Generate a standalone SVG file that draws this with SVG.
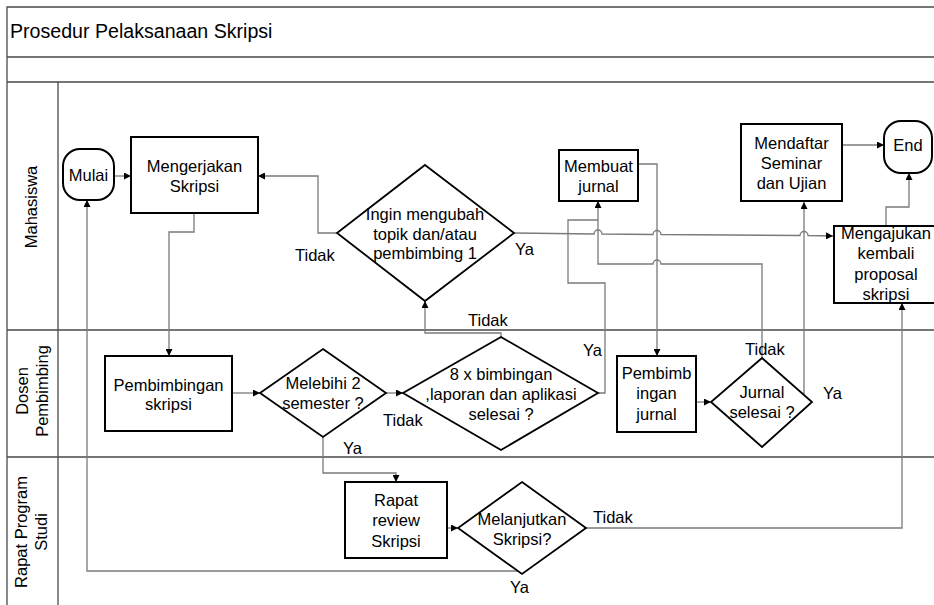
<svg xmlns="http://www.w3.org/2000/svg" width="934" height="605" viewBox="0 0 934 605">
<defs>
<marker id="arr" viewBox="0 0 10 10" refX="10" refY="5" markerWidth="8" markerHeight="7" markerUnits="userSpaceOnUse" orient="auto">
<path d="M0,0 L10,5 L0,10 Z" fill="#000"/>
</marker>
<style>
text{font-family:"Liberation Sans",Arial,sans-serif;font-size:16.5px;fill:#000}
.c{text-anchor:middle}
.title{font-size:19.6px}
.lane{stroke:#4a4a4a;stroke-width:1.3;fill:none}
.box{fill:#fff;stroke:#000;stroke-width:2}
.dia{fill:#fff;stroke:#000;stroke-width:1.8}
.cn{fill:none;stroke:#7a7a7a;stroke-width:1.3}
.ar{marker-end:url(#arr)}
</style>
</defs>
<rect width="934" height="605" fill="#fff"/>
<g id="frame">
<path class="lane" d="M7,605 V7 H940 M7,57 H940 M7,82 H940 M58,82 V605 M7,330 H940 M7,457 H940"/>
<text class="title" x="10" y="38">Prosedur Pelaksanaan Skripsi</text>
<text class="c" transform="translate(37,207) rotate(-90)">Mahasiswa</text>
<text class="c" transform="translate(28,391) rotate(-90)">Dosen</text>
<text class="c" transform="translate(48,391) rotate(-90)">Pembimbing</text>
<text class="c" transform="translate(27,532) rotate(-90)">Rapat Program</text>
<text class="c" transform="translate(47,532) rotate(-90)">Studi</text>
</g>
<g id="connectors">
<path class="cn ar" d="M114,176 H131"/>
<path class="cn ar" d="M194,213 V232 H169 V356"/>
<path class="cn ar" d="M337,233 H318 V176 H258"/>
<path class="cn ar" d="M514,233 L594,234 a4,4 0 0 1 8,0 L653,234.5 a4,4 0 0 1 8,0 L800,235.5 a4,4 0 0 1 8,0 L833,236"/>
<path class="cn ar" d="M232,393 H260"/>
<path class="cn ar" d="M386,393 H403"/>
<path class="cn ar" d="M501,337 V333 H425 V301"/>
<path class="cn" d="M598,393 H605 V283 H568 V220 H598"/>
<path class="cn ar" d="M762,358 V264 H661 a4,4 0 0 0 -8,0 H598 V201"/>
<path class="cn ar" d="M638,164 H657 V356"/>
<path class="cn ar" d="M696,402 H711"/>
<path class="cn ar" d="M812,402 H804 V202"/>
<path class="cn ar" d="M842,145 H884"/>
<path class="cn ar" d="M886,226 V207 H909 V173"/>
<path class="cn ar" d="M323,437 V473 H396 V482"/>
<path class="cn ar" d="M447,528 H458"/>
<path class="cn ar" d="M586,528 H902 V303"/>
<path class="cn ar" d="M522,574 V571 H87 V200"/>
<text x="295" y="261">Tidak</text>
<text x="515" y="255">Ya</text>
<text x="468" y="326">Tidak</text>
<text x="583" y="356">Ya</text>
<text x="383" y="426">Tidak</text>
<text x="343" y="454">Ya</text>
<text x="593" y="523">Tidak</text>
<text x="510" y="593">Ya</text>
<text x="745" y="355">Tidak</text>
<text x="823" y="399">Ya</text>
</g>
<g id="mulai">
<rect class="box" x="63" y="149" width="51" height="51" rx="17"/>
<text class="c" x="88.5" y="181">Mulai</text>
</g>
<g id="mengerjakan">
<rect class="box" x="131" y="137" width="127" height="76"/>
<text class="c" x="194.5" y="172">Mengerjakan</text>
<text class="c" x="194.5" y="192">Skripsi</text>
</g>
<g id="ingin">
<path class="dia" d="M425,165 L514,233 L425,301 L337,233 Z"/>
<text class="c" x="425" y="220">Ingin mengubah</text>
<text class="c" x="425" y="240">topik dan/atau</text>
<text class="c" x="425" y="259">pembimbing 1</text>
</g>
<g id="membuat">
<rect class="box" x="559" y="150" width="79" height="51"/>
<text class="c" x="598.5" y="172">Membuat</text>
<text class="c" x="598.5" y="192">jurnal</text>
</g>
<g id="mendaftar">
<rect class="box" x="741" y="124" width="101" height="77"/>
<text class="c" x="791.5" y="149">Mendaftar</text>
<text class="c" x="791.5" y="169">Seminar</text>
<text class="c" x="791.5" y="189">dan Ujian</text>
</g>
<g id="end">
<rect class="box" x="884" y="121" width="48" height="52" rx="17"/>
<text class="c" x="908" y="151">End</text>
</g>
<g id="mengajukan">
<rect class="box" x="834" y="226" width="104" height="77"/>
<text class="c" x="886" y="239">Mengajukan</text>
<text class="c" x="886" y="259">kembali</text>
<text class="c" x="886" y="280">proposal</text>
<text class="c" x="886" y="300">skripsi</text>
</g>
<g id="pembimbingan">
<rect class="box" x="105" y="356" width="127" height="75"/>
<text class="c" x="168.5" y="391">Pembimbingan</text>
<text class="c" x="168.5" y="410">skripsi</text>
</g>
<g id="melebihi">
<path class="dia" d="M323,349 L386,393 L323,437 L260,393 Z"/>
<text class="c" x="323" y="389">Melebihi 2</text>
<text class="c" x="323" y="409">semester ?</text>
</g>
<g id="bimbingan8">
<path class="dia" d="M501,337 L598,393 L501,450 L403,393 Z"/>
<text class="c" x="501" y="380">8 x bimbingan</text>
<text class="c" x="501" y="400">,laporan dan aplikasi</text>
<text class="c" x="501" y="420">selesai ?</text>
</g>
<g id="pembimbinganjurnal">
<rect class="box" x="617" y="356" width="79" height="76"/>
<text class="c" x="656.5" y="379">Pembimb</text>
<text class="c" x="656.5" y="399">ingan</text>
<text class="c" x="656.5" y="420">jurnal</text>
</g>
<g id="jurnalselesai">
<path class="dia" d="M762,358 L812,402 L762,447 L711,402 Z"/>
<text class="c" x="762" y="398">Jurnal</text>
<text class="c" x="762" y="418">selesai ?</text>
</g>
<g id="rapat">
<rect class="box" x="345" y="482" width="102" height="76"/>
<text class="c" x="396" y="506">Rapat</text>
<text class="c" x="396" y="526">review</text>
<text class="c" x="396" y="547">Skripsi</text>
</g>
<g id="melanjutkan">
<path class="dia" d="M522,482 L586,528 L522,574 L458,528 Z"/>
<text class="c" x="522" y="525">Melanjutkan</text>
<text class="c" x="522" y="545">Skripsi?</text>
</g>
</svg>
